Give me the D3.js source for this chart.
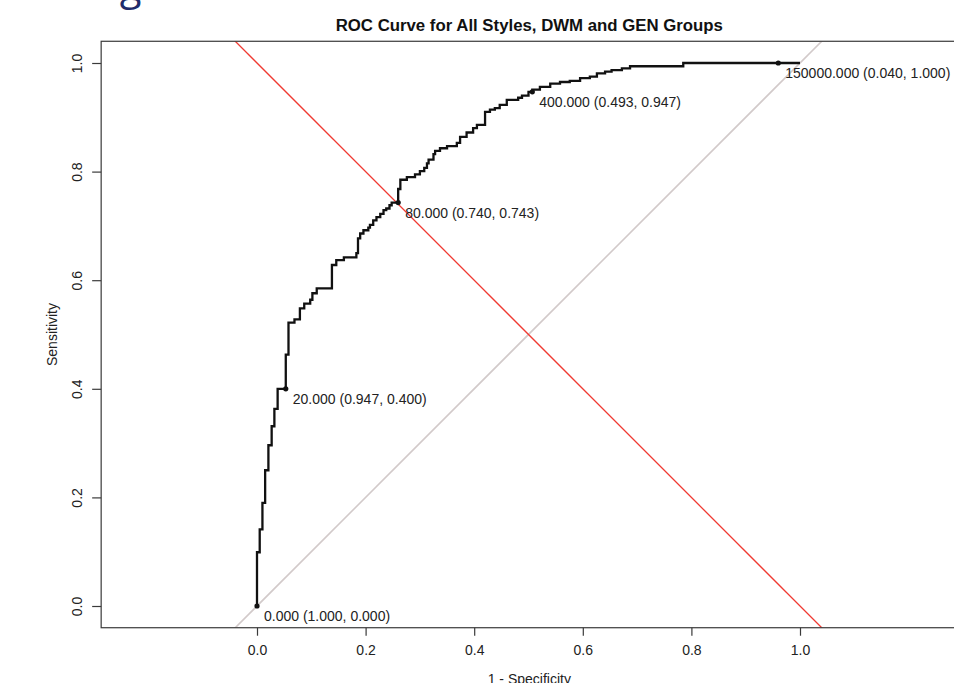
<!DOCTYPE html>
<html>
<head>
<meta charset="utf-8">
<script src="https://cdn.jsdelivr.net/npm/d3@7"></script>
<style>
  html, body { margin: 0; padding: 0; background: #fff; }
  svg { display: block; font-family: "Liberation Sans", Arial, sans-serif; }
</style>
</head>
<body>
<div id="container"></div>
<script>
'use strict';

const w = 954;
const h = 683;
const fontSize = 14;    // R's cex = 1 text.

// ROC curve: false positive rate (1 - specificity)
// at the end of each horizontal run, and the sensitivity of that run.
const fpr = [
    0.000, 0.005, 0.010, 0.015, 0.021, 0.027, 0.032, 0.038, 0.053, 0.058,
    0.069, 0.079, 0.087, 0.098, 0.102, 0.110, 0.138, 0.146, 0.160, 0.183,
    0.186, 0.190, 0.196, 0.205, 0.208, 0.214, 0.220, 0.227, 0.233, 0.238,
    0.244, 0.248, 0.260, 0.264, 0.276, 0.291, 0.300, 0.308, 0.313, 0.316,
    0.325, 0.328, 0.337, 0.350, 0.368, 0.374, 0.386, 0.398, 0.405, 0.420,
    0.429, 0.438, 0.447, 0.460, 0.481, 0.488, 0.500, 0.507, 0.521, 0.540,
    0.558, 0.576, 0.595, 0.613, 0.626, 0.641, 0.653, 0.672, 0.687, 0.785,
    0.960, 1.000
];
const sensitivity = [
    0.000, 0.099, 0.141, 0.190, 0.250, 0.296, 0.331, 0.363, 0.400, 0.463,
    0.522, 0.528, 0.548, 0.557, 0.564, 0.576, 0.585, 0.628, 0.637, 0.642,
    0.650, 0.677, 0.686, 0.692, 0.697, 0.702, 0.710, 0.716, 0.722, 0.729,
    0.732, 0.738, 0.743, 0.768, 0.785, 0.790, 0.795, 0.801, 0.807, 0.815,
    0.822, 0.832, 0.838, 0.843, 0.847, 0.853, 0.864, 0.872, 0.880, 0.886,
    0.910, 0.914, 0.917, 0.923, 0.932, 0.936, 0.940, 0.947, 0.951, 0.956,
    0.962, 0.965, 0.967, 0.972, 0.975, 0.981, 0.984, 0.987, 0.990, 0.994,
    1.000, 1.000
];

// Printed thresholds: threshold (specificity, sensitivity).
const thresholds = [0, 20, 80, 400, 150000];
const thrSpecificity = [1.000, 0.947, 0.740, 0.493, 0.040];
const thrSensitivity = [0.000, 0.400, 0.743, 0.947, 1.000];

const xTicks = [0, 0.2, 0.4, 0.6, 0.8, 1.0];
const yTicks = [0, 0.2, 0.4, 0.6, 0.8, 1.0];

const title = 'ROC Curve for All Styles, DWM and GEN Groups';
const xLabel = '1 - Specificity';
const yLabel = 'Sensitivity';

const svg = d3.select('#container')
    .append('svg')
    .attr('width', w)
    .attr('height', h);

// Scales: equal aspect, plot region extended like R's asp = 1.
const x = d3.scaleLinear().domain([0, 1]).range([257, 800]);
const y = d3.scaleLinear().domain([0, 1]).range([606, 63]);
const box = {
    left: x(-0.287), right: x(1.29),
    top: y(1.04), bottom: y(-0.04)
};

// Fragment of the figure caption above, cut off by the crop.
svg.append('text')
    .attr('x', 89)
    .attr('y', 0)
    .attr('font-size', 40)
    .attr('font-family', '"Open Sans", sans-serif')
    .attr('fill', '#1f2c6b')
    .text('Figure');

svg.append('defs').append('clipPath')
    .attr('id', 'plot-clip')
    .append('rect')
    .attr('x', box.left)
    .attr('y', box.top)
    .attr('width', box.right - box.left)
    .attr('height', box.bottom - box.top);

const plot = svg.append('g').attr('clip-path', 'url(#plot-clip)');

// Chance diagonal and the sensitivity = specificity line.
plot.append('line')
    .attr('x1', x(-0.1)).attr('y1', y(-0.1))
    .attr('x2', x(1.1)).attr('y2', y(1.1))
    .attr('stroke', '#d2caca')
    .attr('stroke-width', 1.6);

plot.append('line')
    .attr('x1', x(-0.1)).attr('y1', y(1.1))
    .attr('x2', x(1.1)).attr('y2', y(-0.1))
    .attr('stroke', '#f03a32')
    .attr('stroke-width', 1.3);

// ROC curve.
const rocLine = d3.line()
    .x(i => x(fpr[i]))
    .y(i => y(sensitivity[i]))
    .curve(d3.curveStepBefore);

plot.append('path')
    .datum(d3.range(fpr.length))
    .attr('d', rocLine)
    .attr('fill', 'none')
    .attr('stroke', '#111')
    .attr('stroke-width', 2.3)
    .attr('stroke-linejoin', 'miter');

// Threshold points and labels.
const thr = thresholds.map((t, i) => ({
    t: t, sp: thrSpecificity[i], se: thrSensitivity[i]
}));

plot.selectAll('circle.thr')
    .data(thr)
    .enter()
    .append('circle')
    .attr('class', 'thr')
    .attr('cx', d => x(1 - d.sp))
    .attr('cy', d => y(d.se))
    .attr('r', 2.6)
    .attr('fill', '#111');

svg.selectAll('text.thr')
    .data(thr)
    .enter()
    .append('text')
    .attr('class', 'thr')
    .attr('x', d => x(1 - d.sp) + 7)
    .attr('y', d => y(d.se) + 15)
    .attr('font-size', fontSize)
    .attr('fill', '#222')
    .text(d => d.t.toFixed(3) + ' (' + d.sp.toFixed(3) + ', ' + d.se.toFixed(3) + ')');

// Box.
svg.append('rect')
    .attr('x', box.left)
    .attr('y', box.top)
    .attr('width', box.right - box.left)
    .attr('height', box.bottom - box.top)
    .attr('fill', 'none')
    .attr('stroke', '#3a3a3a')
    .attr('stroke-width', 1.2);

// Axes.
const xAxis = d3.axisBottom(x)
    .tickValues(xTicks)
    .tickSize(8)
    .tickPadding(9)
    .tickFormat(d3.format('.1f'));
const gx = svg.append('g')
    .attr('transform', 'translate(0, ' + box.bottom + ')')
    .call(xAxis);
gx.select('.domain').remove();
gx.selectAll('line').attr('stroke', '#3a3a3a').attr('stroke-width', 1.2);
gx.selectAll('text')
    .attr('font-size', fontSize)
    .attr('font-family', '"Liberation Sans", Arial, sans-serif')
    .attr('fill', '#222');

const yAxis = d3.axisLeft(y)
    .tickValues(yTicks)
    .tickSize(9)
    .tickFormat(d3.format('.1f'));
const gy = svg.append('g')
    .attr('transform', 'translate(' + box.left + ', 0)')
    .call(yAxis);
gy.select('.domain').remove();
gy.selectAll('line').attr('stroke', '#3a3a3a').attr('stroke-width', 1.2);
gy.selectAll('text')
    .attr('transform', 'rotate(-90)')
    .attr('x', 0)
    .attr('y', -19.5)
    .attr('dy', 0)
    .attr('text-anchor', 'middle')
    .attr('font-size', fontSize)
    .attr('font-family', '"Liberation Sans", Arial, sans-serif')
    .attr('fill', '#222');

// Titles.
const cx = (box.left + box.right) / 2;
svg.append('text')
    .attr('x', cx)
    .attr('y', 31)
    .attr('text-anchor', 'middle')
    .attr('font-size', 16.8)
    .attr('font-weight', 'bold')
    .attr('fill', '#111')
    .text(title);

svg.append('text')
    .attr('x', cx)
    .attr('y', 684)
    .attr('text-anchor', 'middle')
    .attr('font-size', fontSize)
    .attr('fill', '#222')
    .text(xLabel);

svg.append('text')
    .attr('transform', 'translate(57, ' + ((box.top + box.bottom) / 2) + ') rotate(-90)')
    .attr('text-anchor', 'middle')
    .attr('font-size', fontSize)
    .attr('fill', '#222')
    .text(yLabel);
</script>
</body>
</html>
